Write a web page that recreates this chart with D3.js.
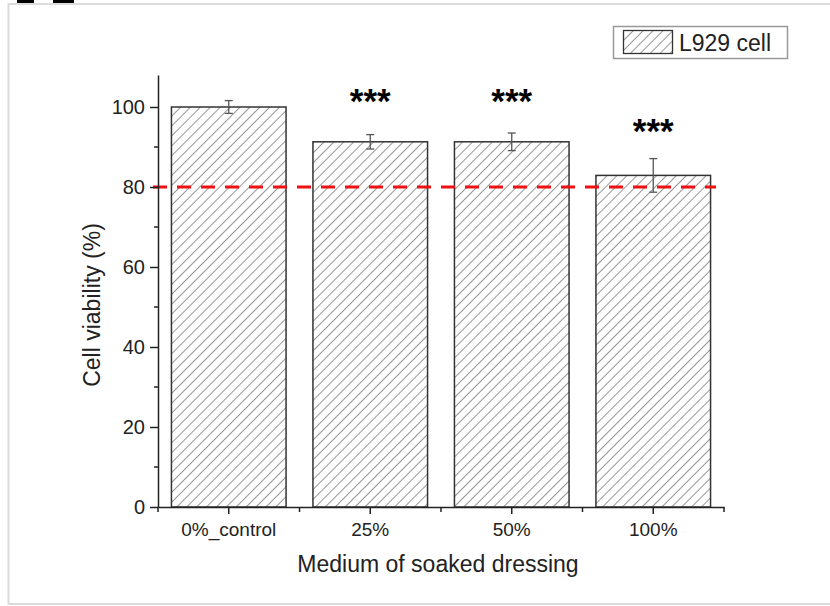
<!DOCTYPE html>
<html lang="en">
<head>
    <meta charset="UTF-8">
    <title>L929 cell viability</title>
    <script src="https://d3js.org/d3.v7.min.js"></script>
    <style>
        body {
            margin: 0;
            background: #fff;
            font-family: "Liberation Sans", Arial, sans-serif;
        }
        svg { display: block; }
    </style>
</head>
<body>
    <script>
        // Data
        const categories = ["0%_control", "25%", "50%", "100%"];
        const viability = [100, 91.3, 91.3, 82.9];
        const errors = [1.6, 1.8, 2.2, 4.2];
        const sigLabels = ["", "***", "***", "***"];
        const sigLevels = [null, 102.4, 102.4, 95.1];
        const yTicks = [0, 20, 40, 60, 80, 100];
        const yMinorTicks = [10, 30, 50, 70, 90];
        const threshold = 80;

        const width = 830, height = 606;
        const margin = { top: 75, right: 106, bottom: 99, left: 158 };

        const svg = d3.select("body")
            .append("svg")
            .attr("width", width)
            .attr("height", height);

        // hatch pattern
        const defs = svg.append("defs");
        defs.append("pattern")
            .attr("id", "hatch")
            .attr("patternUnits", "userSpaceOnUse")
            .attr("width", 7)
            .attr("height", 7)
            .attr("patternTransform", "rotate(45)")
            .append("line")
            .attr("x1", 0).attr("y1", 0)
            .attr("x2", 0).attr("y2", 7)
            .attr("stroke", "#505050")
            .attr("stroke-width", 1.2);

        // outer frame + cut off marks at the top
        svg.append("rect")
            .attr("x", 8.5).attr("y", 4)
            .attr("width", 840).attr("height", 600)
            .attr("fill", "none")
            .attr("stroke", "#dcdcdc")
            .attr("stroke-width", 2);
        svg.append("rect").attr("x", 17).attr("y", 0).attr("width", 17).attr("height", 3).attr("fill", "#000");
        svg.append("rect").attr("x", 53).attr("y", 0).attr("width", 21).attr("height", 3).attr("fill", "#000");

        // scales
        const x = d3.scaleBand()
            .domain(categories)
            .range([margin.left, width - margin.right])
            .paddingInner(0.19)
            .paddingOuter(0.095);

        const y = d3.scaleLinear()
            .domain([0, 108])
            .range([height - margin.bottom, margin.top]);

        const g = svg.append("g");

        // bars
        const rows = categories.map((c, i) => ({ cat: c, v: viability[i], e: errors[i], sig: sigLabels[i], sl: sigLevels[i] }));

        g.selectAll("rect.bg")
            .data(rows)
            .enter()
            .append("rect")
            .attr("class", "bg")
            .attr("x", d => x(d.cat))
            .attr("y", d => y(d.v))
            .attr("width", x.bandwidth())
            .attr("height", d => y(0) - y(d.v))
            .attr("fill", "#fff");

        g.selectAll("rect.bar")
            .data(rows)
            .enter()
            .append("rect")
            .attr("class", "bar")
            .attr("x", d => x(d.cat))
            .attr("y", d => y(d.v))
            .attr("width", x.bandwidth())
            .attr("height", d => y(0) - y(d.v))
            .attr("fill", "url(#hatch)")
            .attr("stroke", "#333")
            .attr("stroke-width", 1.5);

        // error bars
        const eb = g.selectAll("g.err")
            .data(rows)
            .enter()
            .append("g")
            .attr("class", "err")
            .attr("stroke", "#555")
            .attr("stroke-width", 1.3);
        const cx = d => x(d.cat) + x.bandwidth() / 2;
        eb.append("line")
            .attr("x1", cx).attr("x2", cx)
            .attr("y1", d => y(d.v + d.e)).attr("y2", d => y(d.v - d.e));
        eb.append("line")
            .attr("x1", d => cx(d) - 4).attr("x2", d => cx(d) + 4)
            .attr("y1", d => y(d.v + d.e)).attr("y2", d => y(d.v + d.e));
        eb.append("line")
            .attr("x1", d => cx(d) - 4).attr("x2", d => cx(d) + 4)
            .attr("y1", d => y(d.v - d.e)).attr("y2", d => y(d.v - d.e));

        // significance stars
        g.selectAll("text.sig")
            .data(rows.filter(d => d.sig))
            .enter()
            .append("text")
            .attr("class", "sig")
            .attr("x", cx)
            .attr("y", d => y(d.sl) + 16)
            .attr("text-anchor", "middle")
            .style("font-size", "35px")
            .style("font-weight", "bold")
            .text(d => d.sig);

        // threshold line
        svg.append("line")
            .attr("x1", x.range()[0] - 5)
            .attr("x2", x.range()[1] - 8)
            .attr("y1", y(threshold))
            .attr("y2", y(threshold))
            .attr("stroke", "#ee1111")
            .attr("stroke-width", 3)
            .attr("stroke-dasharray", "14,10");

        // y axis
        const yAxis = svg.append("g")
            .attr("transform", `translate(${margin.left},0)`)
            .call(d3.axisLeft(y).tickValues(yTicks).tickSize(8).tickPadding(5).tickSizeOuter(0));
        yAxis.select(".domain").attr("stroke", "#222").attr("stroke-width", 1.5);
        yAxis.selectAll(".tick line").attr("stroke", "#222").attr("stroke-width", 1.5);
        yAxis.selectAll("text").style("font-size", "20px").attr("fill", "#222")
            .style("font-family", "'Liberation Sans', Arial, sans-serif");
        yAxis.selectAll("line.minor")
            .data(yMinorTicks)
            .enter()
            .append("line")
            .attr("class", "minor")
            .attr("x1", -4).attr("x2", 0)
            .attr("y1", d => y(d)).attr("y2", d => y(d))
            .attr("stroke", "#222").attr("stroke-width", 1.5);

        // x axis
        const xAxis = svg.append("g")
            .attr("transform", `translate(0,${y(0)})`)
            .call(d3.axisBottom(x).tickSize(7).tickPadding(9).tickSizeOuter(0));
        xAxis.select(".domain").attr("stroke", "#222").attr("stroke-width", 1.5);
        xAxis.selectAll(".tick line").attr("stroke", "#222").attr("stroke-width", 1.5);
        xAxis.selectAll("text").style("font-size", "19px").attr("fill", "#222")
            .style("font-family", "'Liberation Sans', Arial, sans-serif");
        const bounds = d3.range(categories.length + 1).map(i => x.range()[0] + i * x.step());
        xAxis.selectAll("line.minor")
            .data(bounds)
            .enter()
            .append("line")
            .attr("class", "minor")
            .attr("x1", d => d).attr("x2", d => d)
            .attr("y1", 0).attr("y2", 5)
            .attr("stroke", "#222").attr("stroke-width", 1.5);

        // axis titles
        svg.append("text")
            .attr("x", (x.range()[0] + x.range()[1]) / 2 - 3)
            .attr("y", 572)
            .attr("text-anchor", "middle")
            .style("font-size", "23px")
            .attr("fill", "#222")
            .text("Medium of soaked dressing");

        svg.append("text")
            .attr("transform", `translate(100,${(y(0) + y(108)) / 2 + 14}) rotate(-90)`)
            .attr("text-anchor", "middle")
            .style("font-size", "23px")
            .attr("fill", "#222")
            .text("Cell viability (%)");

        // legend
        const lg = svg.append("g");
        lg.append("rect")
            .attr("x", 613.5).attr("y", 26.5)
            .attr("width", 174).attr("height", 32)
            .attr("fill", "#fff")
            .attr("stroke", "#999")
            .attr("stroke-width", 1.5);
        lg.append("rect")
            .attr("x", 623.5).attr("y", 30.5)
            .attr("width", 49).attr("height", 23)
            .attr("fill", "url(#hatch)")
            .attr("stroke", "#333")
            .attr("stroke-width", 1.3);
        lg.append("text")
            .attr("x", 679)
            .attr("y", 51)
            .style("font-size", "23px")
            .attr("fill", "#222")
            .text("L929 cell");
    </script>
</body>
</html>
